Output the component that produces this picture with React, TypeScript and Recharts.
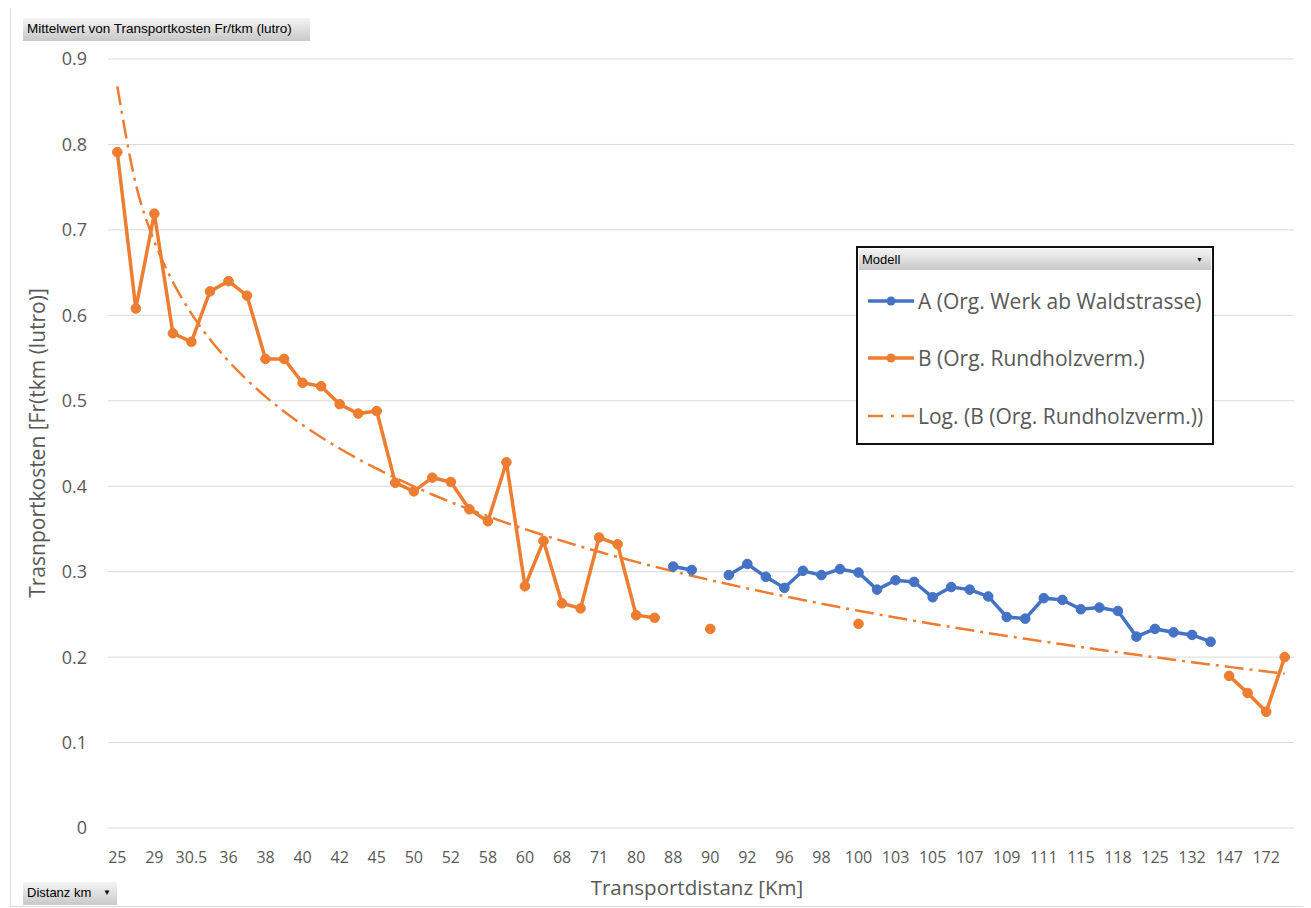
import { LineChart, Line, XAxis, YAxis, CartesianGrid } from "recharts"

// Distanz km (pivot categories)
const distanz = [
  25, 27, 29, 30, 30.5, 35, 36, 37, 38, 39,
  40, 41, 42, 44, 45, 48, 50, 51, 52, 55,
  58, 59, 60, 65, 68, 70, 71, 75, 80, 85,
  88, 89, 90, 91, 92, 95, 96, 97, 98, 99,
  100, 102, 103, 104, 105, 106, 107, 108, 109, 110,
  111, 113, 115, 117, 118, 120, 125, 130, 132, 140,
  147, 160, 172, 180
]

// A (Org. Werk ab Waldstrasse)
const modellA = [
  null, null, null, null, null, null, null, null, null, null,
  null, null, null, null, null, null, null, null, null, null,
  null, null, null, null, null, null, null, null, null, null,
  0.306, 0.302, null, 0.296, 0.309, 0.294, 0.281, 0.301, 0.296, 0.303,
  0.299, 0.279, 0.290, 0.288, 0.270, 0.282, 0.279, 0.271, 0.247, 0.245,
  0.269, 0.267, 0.256, 0.258, 0.254, 0.224, 0.233, 0.229, 0.226, 0.218,
  null, null, null, null
]

// B (Org. Rundholzverm.)
const modellB = [
  0.791, 0.608, 0.719, 0.579, 0.569, 0.628, 0.640, 0.623, 0.549, 0.549,
  0.521, 0.517, 0.496, 0.485, 0.488, 0.404, 0.394, 0.410, 0.405, 0.373,
  0.359, 0.428, 0.283, 0.336, 0.263, 0.257, 0.340, 0.332, 0.249, 0.246,
  null, null, 0.233, null, null, null, null, null, null, null,
  0.239, null, null, null, null, null, null, null, null, null,
  null, null, null, null, null, null, null, null, null, null,
  0.178, 0.158, 0.136, 0.200
]

const yTicks = [0, 0.1, 0.2, 0.3, 0.4, 0.5, 0.6, 0.7, 0.8, 0.9]

const blue = "#4472C4"
const orange = "#ED7D31"
const grey = "#595959"
const font = "'Open Sans', 'Noto Sans', sans-serif"

// Excel style log trendline: x = category position 1..n
function logTrend(values: (number | null)[]) {
  let n = 0, sx = 0, sy = 0, sxx = 0, sxy = 0
  values.forEach((v, i) => {
    if (v == null) return
    const x = Math.log(i + 1)
    n++; sx += x; sy += v; sxx += x * x; sxy += x * v
  })
  const a = (n * sxy - sx * sy) / (n * sxx - sx * sx)
  const b = (sy - a * sx) / n
  return values.map((_, i) => a * Math.log(i + 1) + b)
}

const trendB = logTrend(modellB)

const data = distanz.map((d, i) => ({
  d: String(d),
  A: modellA[i],
  B: modellB[i],
  T: trendB[i]
}))

const buttonStyle: React.CSSProperties = {
  position: "absolute",
  background: "linear-gradient(#f4f4f4, #c8c8c8)",
  fontFamily: "'Liberation Sans', Arial, sans-serif",
  fontSize: 12,
  color: "#000",
  boxSizing: "border-box",
  whiteSpace: "nowrap",
  lineHeight: "22px"
}

function LegendRow({ top, color, label, dashed }: { top: number, color: string, label: string, dashed?: boolean }) {
  return (
    <div style={{ position: "absolute", left: 9, top: top - 15, height: 30, display: "flex", alignItems: "center", whiteSpace: "nowrap" }}>
      <svg width={48} height={12} style={{ marginRight: 3 }}>
        {dashed ? (
          <line x1={1} y1={6} x2={47} y2={6} stroke={color} strokeWidth={2.5} strokeDasharray="15 8 3 8" />
        ) : (
          <>
            <line x1={1} y1={6} x2={47} y2={6} stroke={color} strokeWidth={3.5} />
            <circle cx={24} cy={6} r={4.5} fill={color} />
          </>
        )}
      </svg>
      <span style={{ fontFamily: font, fontSize: 21, color: grey }}>{label}</span>
    </div>
  )
}

export default function App() {
  return (
    <div style={{ position: "relative", width: 1294, height: 900, border: "1px solid #d9d9d9", marginLeft: 2, marginTop: -1, boxSizing: "border-box", background: "#fff" }}>

      <div style={{ position: "absolute", left: 0, top: 0 }}>
        <LineChart width={1292} height={898} data={data} margin={{ top: 51, right: 9, bottom: 38, left: 17 }}>
          <CartesianGrid vertical={false} stroke="#d9d9d9" strokeWidth={1} />
          <XAxis
            dataKey="d"
            interval={1}
            padding={{ left: 9.3, right: 9.3 }}
            axisLine={false}
            tickLine={false}
            tickSize={0}
            tickMargin={24}
            height={40}
            tick={{ fontFamily: font, fontSize: 16, fill: grey }}
          />
          <YAxis
            type="number"
            domain={[0, 0.9]}
            ticks={yTicks}
            axisLine={false}
            tickLine={false}
            tickSize={0}
            tickMargin={21}
            width={80}
            tick={{ fontFamily: font, fontSize: 18, fill: grey }}
          />
          <Line dataKey="T" type="monotone" stroke={orange} strokeWidth={2.5} strokeDasharray="19 6 3 6" dot={false} activeDot={false} isAnimationActive={false} />
          <Line dataKey="B" type="linear" stroke={orange} strokeWidth={3.5} connectNulls={false} dot={{ r: 4.8, fill: orange, stroke: orange, strokeWidth: 1 }} activeDot={false} isAnimationActive={false} />
          <Line dataKey="A" type="linear" stroke={blue} strokeWidth={3.5} connectNulls={false} dot={{ r: 4.8, fill: blue, stroke: blue, strokeWidth: 1 }} activeDot={false} isAnimationActive={false} />
        </LineChart>
      </div>

      <div style={{ ...buttonStyle, left: 12, top: 10, width: 287, height: 23, paddingLeft: 4, fontSize: 13.5 }}>
        Mittelwert von Transportkosten Fr/tkm (lutro)
      </div>

      <div style={{ ...buttonStyle, left: 12, top: 874, width: 94, height: 23, paddingLeft: 4, fontSize: 13 }}>
        Distanz km
        <span style={{ position: "absolute", left: 80, top: 0, fontSize: 8 }}>▼</span>
      </div>

      <div style={{ position: "absolute", left: 26, top: 435, transform: "translate(-50%, -50%) rotate(-90deg)", fontFamily: font, fontSize: 21, color: grey, whiteSpace: "nowrap" }}>
        Trasnportkosten [Fr(tkm (lutro)]
      </div>

      <div style={{ position: "absolute", left: 686, top: 879, transform: "translate(-50%, -50%)", fontFamily: font, fontSize: 20.5, color: grey, whiteSpace: "nowrap" }}>
        Transportdistanz [Km]
      </div>

      <div style={{ position: "absolute", left: 845, top: 238, width: 358, height: 199, border: "2px solid #111", boxSizing: "border-box", background: "#fff" }}>
        <div style={{ ...buttonStyle, left: 1, top: 1, right: 1, height: 21, lineHeight: "21px", paddingLeft: 3, fontSize: 13 }}>
          Modell
          <span style={{ position: "absolute", right: 8, top: 0, fontSize: 7 }}>▼</span>
        </div>
        <LegendRow top={53} color={blue} label="A (Org. Werk ab Waldstrasse)" />
        <LegendRow top={110} color={orange} label="B (Org. Rundholzverm.)" />
        <LegendRow top={168} color={orange} label="Log. (B (Org. Rundholzverm.))" dashed />
      </div>

    </div>
  )
}
